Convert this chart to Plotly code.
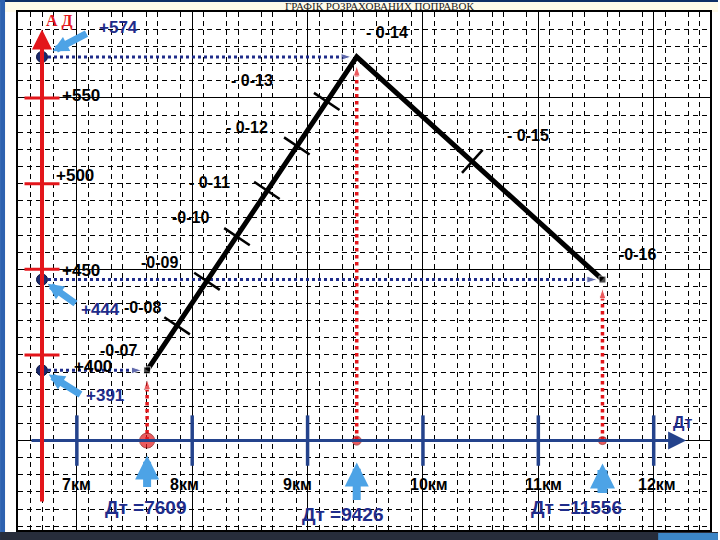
import math
import plotly.graph_objects as go

# ---------------- data ----------------
DT_POINTS = [7609, 9426, 11556]            # Дт, m  (start, peak, end)
D_POINTS = [391, 574, 444]                 # Д, range corrections
D_LABELS = ["+391", "+574", "+444"]
DT_LABELS = ["Дт =7609", "Дт =9426", "Дт =11556"]

KM_TICKS = [7000, 8000, 9000, 10000, 11000, 12000]
KM_LABELS = ["7км", "8км", "9км", "10км", "11км", "12км"]

D_TICKS = [400, 450, 500, 550]
D_TICK_LABELS = ["+400", "+450", "+500", "+550"]

# direction corrections along the graph line
CORR_LABELS = ["-0-07", "-0-08", "-0-09", "-0-10", "- 0-11", "- 0-12",
               "- 0-13", "- 0-14", "- 0-15", "-0-16"]
CORR_DT = [7609, 7869, 8128, 8388, 8647, 8907, 9166, 9426, 10428, 11556]
CORR_D = [391, 417, 443, 469, 496, 522, 548, 574, 513, 444]
MARK_IDX = [1, 2, 3, 4, 5, 6, 8]           # points that carry a division mark

# ---------------- layout / style ----------------
X_RANGE = [6490, 12488]
Y_RANGE = [297.8, 600.2]
AXIS_X = 6698          # position of the red Д axis
AXIS_D = 350           # level of the Дт axis
L, R, T, B = 18, 8, 12, 10
PW, PH = 720 - L - R, 540 - T - B
SX = PW / (X_RANGE[1] - X_RANGE[0])
SY = PH / (Y_RANGE[1] - Y_RANGE[0])

NAVY = "#1F2C8A"
AXBLUE = "#24438C"
RED = "#E3161B"
LBLUE = "#4DA3E6"
BOLD = "Liberation Sans"

MINOR_OFFS = [100, 300, 400, 600, 700, 900]
X_MINOR = [6600, 6700, 6800] + [k + o for k in range(7000, 12001, 1000) for o in MINOR_OFFS if k + o < X_RANGE[1]]

fig = go.Figure()

def px2paper_x(px):
    return (px - L) / PW

def py2paper_y(py):
    return (540 - B - py) / PH

# background decorations (paper coords)
fig.add_shape(type="rect", xref="paper", yref="paper", layer="below",
              x0=px2paper_x(0), x1=px2paper_x(720), y0=py2paper_y(12), y1=py2paper_y(0),
              fillcolor="#FFFBEA", line_width=0)
fig.add_shape(type="rect", xref="paper", yref="paper", layer="below",
              x0=px2paper_x(0), x1=px2paper_x(720), y0=py2paper_y(2), y1=py2paper_y(0),
              fillcolor="#0E2F66", line_width=0)
fig.add_shape(type="rect", xref="paper", yref="paper", layer="below",
              x0=px2paper_x(0), x1=px2paper_x(5), y0=py2paper_y(540), y1=py2paper_y(0),
              fillcolor="#2E62B0", line_width=0)
fig.add_shape(type="rect", xref="paper", yref="paper", layer="below",
              x0=px2paper_x(0), x1=px2paper_x(720), y0=py2paper_y(540), y1=py2paper_y(532),
              fillcolor="#272D3B", line_width=0)
fig.add_shape(type="rect", xref="paper", yref="paper", layer="below",
              x0=px2paper_x(660), x1=px2paper_x(720), y0=py2paper_y(540), y1=py2paper_y(533),
              fillcolor="#3C86C6", line_width=0)

# title
fig.add_annotation(xref="paper", yref="paper", x=px2paper_x(381), y=py2paper_y(6.5),
                   text="ГРАФІК РОЗРАХОВАНИХ ПОПРАВОК", showarrow=False,
                   font=dict(family="Liberation Serif", size=11, color="#222"),
                   xanchor="center", yanchor="middle", borderpad=0)

# Дт axis (blue) with arrow
fig.add_annotation(x=12281, y=AXIS_D, ax=6594, ay=AXIS_D, axref="x", ayref="y",
                   xref="x", yref="y", text="", showarrow=True, arrowhead=2,
                   arrowsize=1.2, arrowwidth=3, arrowcolor=AXBLUE)
fig.add_trace(go.Scatter(x=KM_TICKS, y=[AXIS_D] * len(KM_TICKS), mode="markers",
                         marker=dict(symbol="line-ns", size=36, line=dict(color=AXBLUE, width=3.5)),
                         hoverinfo="skip", showlegend=False))

# red Д axis with arrow
fig.add_annotation(x=AXIS_X, y=590, ax=AXIS_X, ay=313.5, axref="x", ayref="y",
                   xref="x", yref="y", text="", showarrow=True, arrowhead=2,
                   arrowsize=1, arrowwidth=4, arrowcolor=RED)
fig.add_trace(go.Scatter(x=[AXIS_X] * len(D_TICKS), y=D_TICKS, mode="markers",
                         marker=dict(symbol="line-ew", size=25, line=dict(color=RED, width=3)),
                         hoverinfo="skip", showlegend=False))

# dotted navy arrows from Д axis to the graph points
for d, dt in zip(D_POINTS, DT_POINTS):
    fig.add_trace(go.Scatter(x=[AXIS_X, dt - 45], y=[d, d], mode="lines+markers",
                             line=dict(color=NAVY, width=3, dash="dot"),
                             marker=dict(symbol=["circle", "arrow"], size=[0, 11],
                                         angleref="previous", color=NAVY),
                             hoverinfo="skip", showlegend=False))

# dotted red arrows from Дт axis up to graph points
for d, dt in zip(D_POINTS, DT_POINTS):
    fig.add_trace(go.Scatter(x=[dt, dt], y=[AXIS_D, d - 5], mode="lines+markers",
                             line=dict(color=RED, width=3.5, dash="dot"),
                             marker=dict(symbol=["circle", "arrow"], size=[0, 11],
                                         angleref="previous", color=RED),
                             hoverinfo="skip", showlegend=False))

# main graph line
fig.add_trace(go.Scatter(x=DT_POINTS, y=D_POINTS, mode="lines+markers",
                         line=dict(color="black", width=5),
                         marker=dict(symbol="square", size=[7, 0, 7], color="black"),
                         hoverinfo="skip", showlegend=False))

# division marks
peak = DT_POINTS[1]
def perp_angle(x0, y0, x1, y1):
    th = math.degrees(math.atan2((y1 - y0) * SY, (x1 - x0) * SX))
    return -(th + 90)
ang_up = perp_angle(DT_POINTS[0], D_POINTS[0], DT_POINTS[1], D_POINTS[1])
ang_dn = perp_angle(DT_POINTS[1], D_POINTS[1], DT_POINTS[2], D_POINTS[2])
mx = [CORR_DT[i] for i in MARK_IDX]
my = [CORR_D[i] for i in MARK_IDX]
fig.add_trace(go.Scatter(x=mx, y=my, mode="markers",
                         marker=dict(symbol="line-ew", size=22,
                                     angle=[ang_up if x < peak else ang_dn for x in mx],
                                     line=dict(color="black", width=2.5)),
                         hoverinfo="skip", showlegend=False))

# points on the axes
fig.add_trace(go.Scatter(x=[AXIS_X] * 3, y=D_POINTS, mode="markers",
                         marker=dict(symbol="circle", size=11, color="#1A2A6E",
                                     line=dict(color="#0B1440", width=1)),
                         hoverinfo="skip", showlegend=False))
fig.add_trace(go.Scatter(x=DT_POINTS, y=[AXIS_D] * 3, mode="markers",
                         marker=dict(symbol="circle", size=[15, 9, 8], color=RED,
                                     line=dict(color="#8B0000", width=1)),
                         hoverinfo="skip", showlegend=False))

# light-blue callout arrows
D_CALL = [(40, 25, 8), (46, -24, 12), (35, 25, 7)]       # (ax, ay, standoff) px
for d, (ax, ay, so) in zip(D_POINTS, D_CALL):
    fig.add_annotation(x=AXIS_X, y=d, ax=ax, ay=ay, text="", showarrow=True,
                       arrowhead=2, arrowsize=0.45, arrowwidth=7, arrowcolor=LBLUE, standoff=so)
DT_CALL = [(48, 15, 8, 0.6), (61, 22, 8, 0.6), (54, 23, 10, 0.5)]   # (ay, standoff, width, headsize)
for dt, (ay, so, w, hs) in zip(DT_POINTS, DT_CALL):
    fig.add_annotation(x=dt, y=AXIS_D, ax=0, ay=ay, text="", showarrow=True,
                       arrowhead=2, arrowsize=hs, arrowwidth=w, arrowcolor=LBLUE, standoff=so)

def text(x, y, s, xs, ys, size, color="black", family=BOLD, weight="bold"):
    fig.add_annotation(x=x, y=y, text=s, showarrow=False, xshift=xs, yshift=ys,
                       xanchor="center", yanchor="middle",
                       font=dict(family=family, size=size, color=color, weight=weight))

# labels
D_LBL_SHIFT = [(63, -25), (76, 29), (58, -30)]
for d, s, (xs, ys) in zip(D_POINTS, D_LABELS, D_LBL_SHIFT):
    text(AXIS_X, d, s, xs, ys, 17, NAVY)

D_TICK_SHIFT = [(51, -12), (39, -1), (33, 8), (39, 2)]
for d, s, (xs, ys) in zip(D_TICKS, D_TICK_LABELS, D_TICK_SHIFT):
    text(AXIS_X, d, s, xs, ys, 17)

KM_SHIFT = [0, -8, -10, 6, 5, 3]
for k, s, xs in zip(KM_TICKS, KM_LABELS, KM_SHIFT):
    text(k, AXIS_D, s, xs, -44, 16)

DT_SHIFT = [(-2, -67), (-14, -74), (-26, -67)]
for dt, s, (xs, ys) in zip(DT_POINTS, DT_LABELS, DT_SHIFT):
    text(dt, AXIS_D, s, xs, ys, 19, NAVY)

CORR_SHIFT = [(-29, 20), (-35, 18), (-47, 19), (-46, 19), (-57, 8), (-50, 18),
              (-75, 21), (30, 24), (56, 26), (35, 25)]
for x, y, s, (xs, ys) in zip(CORR_DT, CORR_D, CORR_LABELS, CORR_SHIFT):
    text(x, y, s, xs, ys, 16)

text(12281, AXIS_D, "Дт", -4, 18, 16, NAVY)
text(AXIS_X, 590, "А Д", 17, 8, 16, RED, family="Liberation Serif")

GRIDDASH = "5px,4px"
fig.update_layout(
    width=720, height=540, margin=dict(l=L, r=R, t=T, b=B),
    paper_bgcolor="white", plot_bgcolor="white", showlegend=False,
    xaxis=dict(range=X_RANGE, showticklabels=False, ticks="", zeroline=False,
               showgrid=True, gridcolor="black", gridwidth=1, tick0=7000, dtick=1000,
               minor=dict(tickmode="array", tickvals=X_MINOR, showgrid=True,
                          gridcolor="black", gridwidth=1, griddash=GRIDDASH),
               showline=True, mirror=True, linecolor="black", linewidth=2, fixedrange=True),
    yaxis=dict(range=Y_RANGE, showticklabels=False, ticks="", zeroline=False,
               showgrid=True, gridcolor="black", gridwidth=1, tick0=350, dtick=100,
               minor=dict(tick0=0, dtick=10, showgrid=True,
                          gridcolor="black", gridwidth=1, griddash=GRIDDASH),
               showline=True, mirror=True, linecolor="black", linewidth=2, fixedrange=True),
)

fig.write_html("out.html", config={"displayModeBar": False},
               post_script="document.body.style.margin='0';document.body.style.overflow='hidden';")
